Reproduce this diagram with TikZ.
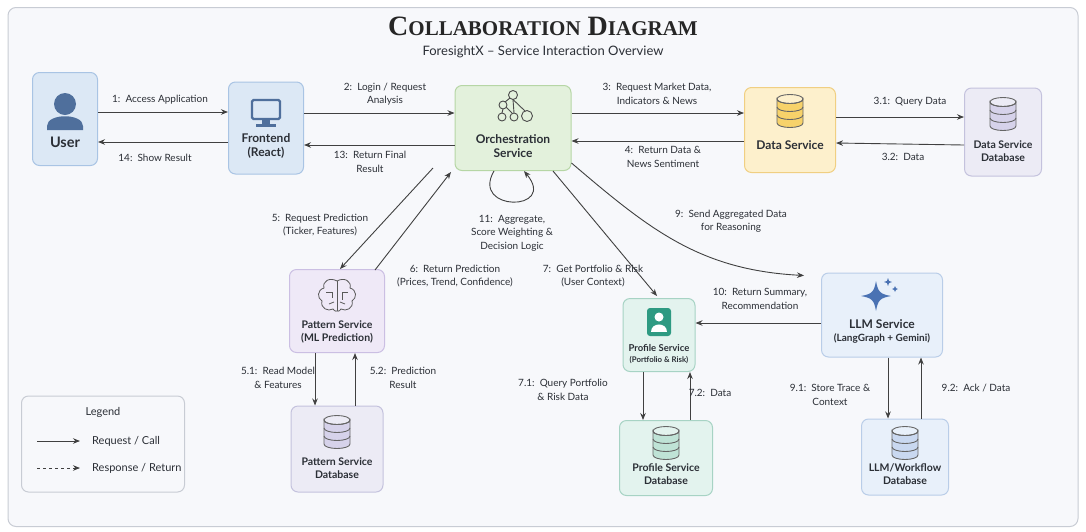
\documentclass[tikz,border=0pt]{standalone}
\usepackage{fontspec}
\setsansfont{Lato}
\newfontfamily\ttlfont{Liberation Serif}
\usetikzlibrary{arrows.meta,calc}
\definecolor{bg}{HTML}{F7F8FB}
\definecolor{frame}{HTML}{C8CCD4}
\definecolor{ufill}{HTML}{DCE8F5}\definecolor{uborder}{HTML}{A9C4E4}\definecolor{uicon}{HTML}{4F6F9C}
\definecolor{ofill}{HTML}{E3F1DC}\definecolor{oborder}{HTML}{B6D6A5}
\definecolor{dfill}{HTML}{FDF0CC}\definecolor{dborder}{HTML}{F0CF82}\definecolor{dicon}{HTML}{F7D26A}
\definecolor{lfill}{HTML}{ECEBF5}\definecolor{lborder}{HTML}{C4C2DD}\definecolor{licon}{HTML}{D6D2EA}
\definecolor{pfill}{HTML}{EFE9F7}\definecolor{pborder}{HTML}{CBBFE3}
\definecolor{tfill}{HTML}{E3F3EE}\definecolor{tborder}{HTML}{A7D3C4}\definecolor{ticon}{HTML}{2E9A82}\definecolor{tdb}{HTML}{BFE3D6}
\definecolor{bfill}{HTML}{E8F0FA}\definecolor{bborder}{HTML}{B9CDE8}\definecolor{bicon}{HTML}{4A72B3}\definecolor{bdb}{HTML}{C9D8F0}
\definecolor{txt}{HTML}{2B2F36}
\tikzset{
  box/.style={draw=#1,line width=1pt,rounded corners=7pt,inner sep=0pt},
  ttl/.style={font=\sffamily\bfseries\fontsize{12}{14}\selectfont,align=center,text=txt,inner sep=0pt},
  sttl/.style={ttl,font=\sffamily\bfseries\fontsize{10.5}{13.5}\selectfont},
  lbl/.style={font=\sffamily\fontsize{10}{13.5}\selectfont,align=center,text=txt,inner sep=1pt},
  arr/.style={-{Stealth[length=7pt,width=5.5pt]},line width=0.9pt,draw=black!75},
  pics/db/.style={code={
    \filldraw[fill=#1,draw=black!60,line width=0.9pt] (-13,-12) -- (-13,12) arc(180:0:13 and 4.5) -- (13,-12) arc(0:180:13 and 4.5) -- cycle;
    \draw[black!60,line width=0.9pt] (0,-12) ellipse (13 and 4.5);
    \draw[black!60,line width=0.9pt] (-13,-4) arc(180:0:13 and 4.5);
    \draw[black!60,line width=0.9pt] (-13,4) arc(180:0:13 and 4.5);
  }}
}
\begin{document}
\begin{tikzpicture}[x=1pt,y=-1pt]
\useasboundingbox (0,0) rectangle (1086,531);
\fill[white] (0,0) rectangle (1086,531);
\node[draw=frame,fill=bg,line width=1pt,rounded corners=8pt,minimum width=1070pt,minimum height=519pt] (frm) at (543,267) {};
\node[font=\ttlfont\bfseries\fontsize{28}{30}\selectfont,text=black!85] (title) at (543,26) {C{\fontsize{21}{24}\selectfont OLLABORATION} D{\fontsize{21}{24}\selectfont IAGRAM}};
\node[font=\sffamily\fontsize{13}{15}\selectfont,text=txt] (sub) at (543,52) {ForesightX -- Service Interaction Overview};

% boxes
\node[box=uborder,fill=ufill,minimum width=65pt,minimum height=93pt] (user) at (65,119) {};
\node[box=uborder,fill=ufill,minimum width=75pt,minimum height=92pt] (fe) at (266,128) {};
\node[box=oborder,fill=ofill,minimum width=116pt,minimum height=85pt] (orch) at (513,128) {};
\node[box=dborder,fill=dfill,minimum width=91pt,minimum height=85pt] (ds) at (790,130) {};
\node[box=lborder,fill=lfill,minimum width=77pt,minimum height=88pt] (dsdb) at (1003,132) {};
\node[box=pborder,fill=pfill,minimum width=95pt,minimum height=83pt] (ps) at (337,311) {};
\node[box=lborder,fill=lfill,minimum width=92pt,minimum height=86pt] (psdb) at (337,449) {};
\node[box=tborder,fill=tfill,minimum width=72pt,minimum height=73pt] (prof) at (659,335) {};
\node[box=tborder,fill=tfill,minimum width=93pt,minimum height=75pt] (profdb) at (666,458) {};
\node[box=bborder,fill=bfill,minimum width=121pt,minimum height=84pt] (llm) at (882,315) {};
\node[box=bborder,fill=bfill,minimum width=87pt,minimum height=76pt] (llmdb) at (905,457) {};
\node[box=frame,fill=bg,minimum width=163pt,minimum height=96pt] (leg) at (103,444) {};

% titles
\node[ttl,font=\sffamily\bfseries\fontsize{14.5}{16}\selectfont] (tuser) at (65,142) {User};
\node[ttl] (tfe) at (266,146) {Frontend\\(React)};
\node[ttl] (torch) at (513,146) {Orchestration\\Service};
\node[ttl] (tds) at (790,145) {Data Service};
\node[sttl] (tdsdb) at (1003,151) {Data Service\\Database};
\node[sttl] (tps) at (337,332) {Pattern Service\\(ML Prediction)};
\node[sttl] (tpsdb) at (337,468) {Pattern Service\\Database};
\node[ttl,font=\sffamily\bfseries\fontsize{9.5}{11}\selectfont] (tprof) at (659,348) {Profile Service};
\node[ttl,font=\sffamily\bfseries\fontsize{7.8}{9}\selectfont] (tprof2) at (659,360) {(Portfolio \& Risk)};
\node[sttl] (tprofdb) at (666,474) {Profile Service\\Database};
\node[ttl] (tllm) at (882,331) {LLM Service\\[-1pt]{\fontsize{10}{12}\selectfont(LangGraph + Gemini)}};
\node[sttl] (tllmdb) at (905,474) {LLM/Workflow\\Database};

% icons
\fill[uicon] (65,104) circle (11);
\fill[uicon] (47,130) -- (47,126) .. controls (47,113) and (83,113) .. (83,126) -- (83,130) -- cycle;
\draw[uicon,line width=2.4pt,rounded corners=1.5pt] (252,100) rectangle (280,119);
\fill[uicon] (262,119) rectangle (270,124); \fill[uicon] (256,124) rectangle (276,126.5);
\begin{scope}[black!70,line width=0.9pt]
 \draw (513,95) circle (4.5); \draw (503,105) circle (4); \draw (502,117) circle (4); \draw (514,117) circle (4); \draw (527,116) circle (5.5);
 \draw (510,98) -- (505,102); \draw (513,99.5) -- (525,111); \draw (503,109) -- (502,113); \draw (506,107) -- (512,113); \draw (513,99.5) -- (514,113);
\end{scope}
\pic at (790,111) {db=dicon};
\pic at (1003,114) {db=licon};
\pic at (337,432) {db=licon};
\pic at (666,443) {db=tdb};
\pic at (905,443) {db=bdb};
% brain
\begin{scope}[black!65,line width=0.8pt]
 \draw (337,281) .. controls (330,277) and (322,281) .. (324,288) .. controls (317,290) and (317,298) .. (322,301) .. controls (320,308) and (328,312) .. (333,309) .. controls (335,312) and (337,311) .. (337,311);
 \draw (337,281) .. controls (344,277) and (352,281) .. (350,288) .. controls (357,290) and (357,298) .. (352,301) .. controls (354,308) and (346,312) .. (341,309) .. controls (339,312) and (337,311) .. (337,311);
 \draw (337,281) -- (337,311);
 \draw (326,292) -- (332,292) -- (332,298); \draw (348,292) -- (342,292) -- (342,300); \draw (329,304) -- (334,302); \draw (345,304) -- (340,302);
\end{scope}
% profile icon
\fill[ticon,rounded corners=3pt] (647,308) rectangle (671,336);
\fill[white] (659,317) circle (4.5);
\fill[white] (651,332) .. controls (651,322) and (667,322) .. (667,332) -- cycle;
% sparkle
\fill[bicon] (876,281) .. controls (878,292) and (880,294) .. (891,296) .. controls (880,298) and (878,300) .. (876,311) .. controls (874,300) and (872,298) .. (861,296) .. controls (872,294) and (874,292) .. (876,281) -- cycle;
\fill[bicon] (888,278) .. controls (888.5,281) and (889,281.5) .. (892,282) .. controls (889,282.5) and (888.5,283) .. (888,286) .. controls (887.5,283) and (887,282.5) .. (884,282) .. controls (887,281.5) and (887.5,281) .. (888,278) -- cycle;
\fill[bicon] (895,286) .. controls (895.4,288) and (896,288.6) .. (898,289) .. controls (896,289.4) and (895.4,290) .. (895,292) .. controls (894.6,290) and (894,289.4) .. (892,289) .. controls (894,288.6) and (894.6,288) .. (895,286) -- cycle;

% connectors
\draw[arr] ([yshift=7pt]user.east) -- ([yshift=16pt]fe.west);
\draw[arr] ([yshift=-14pt]fe.west) -- ([yshift=-23pt]user.east);
\draw[arr] ([yshift=15pt]fe.east) -- ([yshift=15pt]orch.west);
\draw[arr] ([yshift=-17pt]orch.west) -- ([yshift=-17pt]fe.east);
\draw[arr] ([yshift=15pt]orch.east) -- ([yshift=17pt]ds.west);
\draw[arr] ([yshift=-11pt]ds.west) -- ([yshift=-13pt]orch.east);
\draw[arr] ([yshift=13pt]ds.east) -- ([yshift=15pt]dsdb.west);
\draw[arr] ([yshift=-13pt]dsdb.west) -- ([yshift=-13pt]ds.east);
\draw[arr] ([xshift=-80pt,yshift=3pt]orch.south) -- ([xshift=3pt]ps.north);
\draw[arr] ([xshift=38pt,yshift=-1pt]ps.north) -- ([xshift=-62pt,yshift=-1pt]orch.south);
\draw[arr] ([xshift=-19pt]orch.south) .. controls (470,212) and (558,212) .. ([xshift=11pt]orch.south);
\draw[arr] ([xshift=40pt]orch.south) -- ([xshift=-2pt,yshift=2pt]prof.north);
\draw[arr] ([yshift=8pt]orch.south east) .. controls (650,230) and (700,270) .. ([xshift=-17pt,yshift=-3pt]llm.north west);
\draw[arr] ([yshift=-8pt]llm.west) -- ([yshift=12pt]prof.east);
\draw[arr] ([xshift=-22pt]ps.south) -- ([xshift=-22pt]psdb.north);
\draw[arr] ([xshift=18pt]psdb.north) -- ([xshift=18pt]ps.south);
\draw[arr] ([xshift=-16pt]prof.south) -- ([xshift=-23pt]profdb.north);
\draw[arr] ([xshift=24pt]profdb.north) -- ([xshift=31pt]prof.south);
\draw[arr] ([xshift=6pt]llm.south) -- ([xshift=-17pt]llmdb.north);
\draw[arr] ([xshift=16pt]llmdb.north) -- ([xshift=39pt]llm.south);

% labels
\node[lbl] (l1) at (160,100) {1:\, Access Application};
\node[lbl] (l14) at (155,158) {14:\, Show Result};
\node[lbl] (l2) at (385,94) {2:\, Login / Request\\Analysis};
\node[lbl] (l13) at (370,162) {13:\, Return Final\\Result};
\node[lbl] (l3) at (657,94) {3:\, Request Market Data,\\Indicators \& News};
\node[lbl] (l4) at (663,157) {4:\, Return Data \&\\News Sentiment};
\node[lbl] (l31) at (910,102) {3.1:\, Query Data};
\node[lbl] (l32) at (903,157) {3.2:\, Data};
\node[lbl] (l5) at (320,225) {5:\, Request Prediction\\(Ticker, Features)};
\node[lbl] (l6) at (455,276) {6:\, Return Prediction\\(Prices, Trend, Confidence)};
\node[lbl] (l11) at (512,233) {11:\, Aggregate,\\Score Weighting \&\\Decision Logic};
\node[lbl] (l7) at (593,276) {7:\, Get Portfolio \& Risk\\(User Context)};
\node[lbl] (l9) at (731,221) {9:\, Send Aggregated Data\\for Reasoning};
\node[lbl] (l10) at (760,299) {10:\, Return Summary,\\Recommendation};
\node[lbl] (l51) at (278,378) {5.1:\, Read Model\\\& Features};
\node[lbl] (l52) at (403,378) {5.2:\, Prediction\\Result};
\node[lbl] (l71) at (563,390) {7.1:\, Query Portfolio\\\& Risk Data};
\node[lbl] (l72) at (710,393) {7.2:\, Data};
\node[lbl] (l91) at (830,395) {9.1:\, Store Trace \&\\Context};
\node[lbl] (l92) at (976,388) {9.2:\, Ack / Data};

% legend
\node[lbl,font=\sffamily\fontsize{11}{13}\selectfont] (lt) at (103,412) {Legend};
\coordinate (la1) at (37,441); \coordinate (la2) at (80,441);
\coordinate (lb1) at (37,468); \coordinate (lb2) at (80,468);
\draw[arr] (la1) -- (la2);
\draw[arr,dashed] (lb1) -- (lb2);
\node[lbl,anchor=west,font=\sffamily\fontsize{11}{13}\selectfont] (lr) at (91,441) {Request / Call};
\node[lbl,anchor=west,font=\sffamily\fontsize{11}{13}\selectfont] (lrr) at (91,468) {Response / Return};
\end{tikzpicture}
\end{document}
